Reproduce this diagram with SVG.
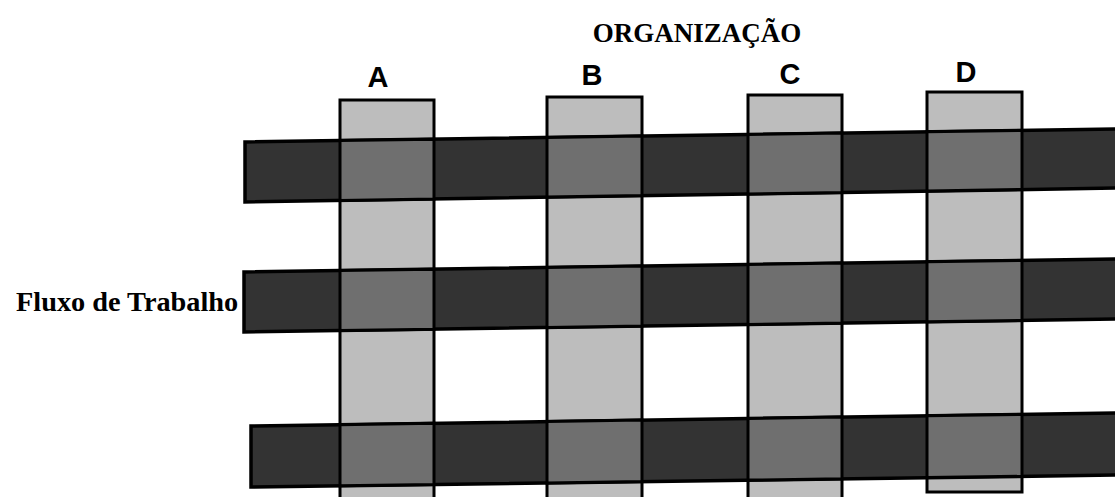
<svg xmlns="http://www.w3.org/2000/svg" width="1115" height="497" viewBox="0 0 1115 497">
<style>
.col{fill:#bdbdbd;stroke:#000;stroke-width:3}
.band{fill:#333;stroke:#000;stroke-width:3.5}
.x{fill:#6f6f6f;stroke:#000;stroke-width:3}
.ser{font-family:"Liberation Serif","Times New Roman",serif;font-weight:bold;fill:#000}
.san{font-family:"Liberation Sans",Arial,sans-serif;font-weight:bold;fill:#000;font-size:29px;text-anchor:middle}
</style>
<rect width="1115" height="497" fill="#fff"/>
<text class="ser" x="697" y="42" font-size="27" text-anchor="middle">ORGANIZAÇÃO</text>
<text class="ser" x="16" y="311" font-size="28.3">Fluxo de Trabalho</text>
<g id="colA"><rect class="col" x="340" y="100" width="94" height="410"/><text class="san" x="378" y="87">A</text></g>
<g id="colB"><rect class="col" x="547" y="97" width="95" height="410"/><text class="san" x="592" y="85">B</text></g>
<g id="colC"><rect class="col" x="748" y="95" width="94" height="410"/><text class="san" x="790" y="84">C</text></g>
<g id="colD"><rect class="col" x="927" y="92" width="95" height="400"/><text class="san" x="966" y="82">D</text></g>
<g id="band1">
<polygon class="band" points="245,142 1120,129 1120,188 245,202"/>
<polygon class="x" points="340,140.6 434,139.2 434,199 340,200.5"/>
<polygon class="x" points="547,137.5 642,136.1 642,195.6 547,197.1"/>
<polygon class="x" points="748,134.5 842,133.1 842,192.4 748,193.9"/>
<polygon class="x" points="927,131.8 1022,130.4 1022,189.5 927,191"/>
</g>
<g id="band2">
<polygon class="band" points="244,272 1120,259 1120,319 244,332"/>
<polygon class="x" points="340,270.6 434,269.2 434,329.2 340,330.6"/>
<polygon class="x" points="547,267.5 642,266.1 642,326.1 547,327.5"/>
<polygon class="x" points="748,264.5 842,263.1 842,323.1 748,324.5"/>
<polygon class="x" points="927,261.8 1022,260.4 1022,320.4 927,321.8"/>
</g>
<g id="band3">
<polygon class="band" points="251,426 1120,413 1120,475 251,487"/>
<polygon class="x" points="340,424.7 434,423.3 434,484.5 340,485.8"/>
<polygon class="x" points="547,421.6 642,420.1 642,481.6 547,482.9"/>
<polygon class="x" points="748,418.5 842,417.1 842,478.8 748,480.1"/>
<polygon class="x" points="927,415.8 1022,414.4 1022,476.3 927,477.6"/>
</g>
<g id="connectors"></g>
</svg>
